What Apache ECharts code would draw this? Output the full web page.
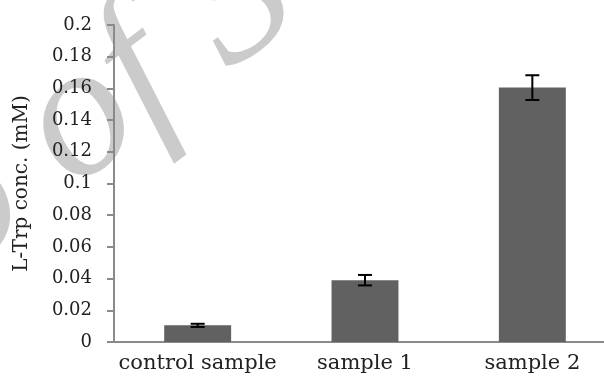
<!DOCTYPE html>
<html>
<head>
<meta charset="utf-8">
<script src="https://cdn.jsdelivr.net/npm/echarts@6/dist/echarts.min.js"></script>
<style>html,body{margin:0;padding:0;background:#fff;overflow:hidden}#c{width:616px;height:383px}</style>
</head>
<body>
<div id="c"></div>
<script>
var categories = ['control sample', 'sample 1', 'sample 2'];
var values = [0.0105, 0.039, 0.1605];
var errors = [0.001, 0.0033, 0.0078];
var yTicks = { min: 0, max: 0.2, interval: 0.02 };
var yTitle = 'L-Trp conc. (mM)';

var chart = echarts.init(document.getElementById('c'));
var font = '"DejaVu Serif", serif';
chart.setOption({
  animation: false,
  backgroundColor: '#fff',
  graphic: [{
    type: 'text', z: -10,
    x: -129, y: 160,
    rotation: 37 * Math.PI / 180,
    style: { text: 'o of S', x: 0, y: 0, textBaseline: 'alphabetic', font: 'italic 190px "Liberation Serif", serif', fill: '#cbcbcb' }
  }],
  grid: { left: 114, right: 0, top: 25, bottom: 41, containLabel: false },
  xAxis: {
    type: 'category', data: categories,
    axisLine: { lineStyle: { color: '#8a8a8a', width: 2 } },
    axisTick: { show: false },
    axisLabel: { color: '#222', fontFamily: font, fontSize: 21, margin: 11, interval: 0 }
  },
  yAxis: {
    type: 'value', min: yTicks.min, max: yTicks.max, interval: yTicks.interval,
    name: yTitle, nameLocation: 'middle', nameGap: 82, nameRotate: 90,
    nameTextStyle: { color: '#222', fontFamily: font, fontSize: 20 },
    axisLine: { show: true, lineStyle: { color: '#8a8a8a', width: 2 } },
    axisTick: { show: true, length: 7, lineStyle: { color: '#8a8a8a', width: 2 } },
    splitLine: { show: false },
    axisLabel: { color: '#222', fontFamily: font, fontSize: 18, margin: 22 }
  },
  series: [{
    type: 'bar', data: values, barWidth: '40%', z: 2,
    itemStyle: { color: '#616161' }
  }, {
    type: 'custom', z: 5,
    data: values.map(function (v, i) { return [i, v - errors[i], v + errors[i]]; }),
    renderItem: function (params, api) {
      var lo = api.coord([api.value(0), api.value(1)]);
      var hi = api.coord([api.value(0), api.value(2)]);
      var hw = 7;
      var st = { stroke: '#000', lineWidth: 2 };
      return { type: 'group', children: [
        { type: 'line', shape: { x1: lo[0], y1: lo[1], x2: hi[0], y2: hi[1] }, style: st },
        { type: 'line', shape: { x1: lo[0] - hw, y1: lo[1], x2: lo[0] + hw, y2: lo[1] }, style: st },
        { type: 'line', shape: { x1: hi[0] - hw, y1: hi[1], x2: hi[0] + hw, y2: hi[1] }, style: st }
      ]};
    }
  }]
});
</script>
</body>
</html>
